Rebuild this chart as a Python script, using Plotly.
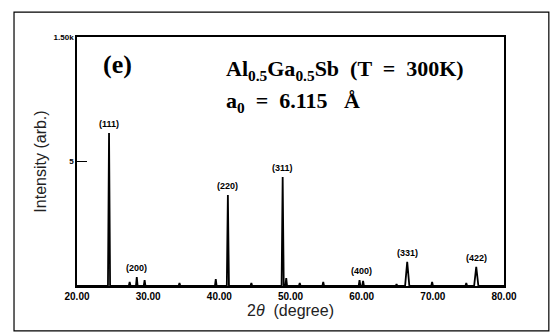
import plotly.graph_objects as go

# Bragg reflections of Al0.5Ga0.5Sb (T = 300 K), 2-theta in degrees
main_pos = [24.5, 41.2, 48.9, 66.4, 76.1]
main_int = [922, 548, 657, 145, 115]
main_hkl = ["(111)", "(220)", "(311)", "(331)", "(422)"]

# weak reflections (200), (400) and minor background lines
minor_pos = [27.4, 28.4, 29.5, 34.4, 39.5, 44.5, 49.4, 51.3, 54.6, 59.7, 60.2, 64.9, 69.9, 74.7]
minor_int = [24, 54, 36, 18, 42, 18, 48, 18, 24, 36, 30, 12, 24, 18]
weak_hkl = ["(200)", "(400)"]
weak_pos = [28.4, 60.0]
weak_int = [54, 36]

x_ticks = [20, 30, 40, 50, 60, 70, 80]
x_ticktext = ["20.00", "30.00", "40.00", "50.00", "60.00", "70.00", "80.00"]
y_ticks = [750, 1500]
y_ticktext = ["5", "1.50k"]

# assemble a stick pattern: each reflection drawn as a narrow triangle on the baseline
peaks = [(p, h, 0.15) for p, h in zip(main_pos[:3], main_int[:3])]
peaks += [(p, h, 0.3) for p, h in zip(main_pos[3:], main_int[3:])]
peaks += [(p, h, 0.12) for p, h in zip(minor_pos, minor_int)]
peaks.sort()

xs, ys = [20.0], [0.0]
for p, h, w in peaks:
    xs += [p - w, p, p + w]
    ys += [0.0, h, 0.0]
xs.append(80.0)
ys.append(0.0)

fig = go.Figure()
fig.add_trace(go.Scatter(x=xs, y=ys, mode="lines",
                         line=dict(color="black", width=1.8),
                         hoverinfo="skip", showlegend=False))

label_font = dict(family="Liberation Sans Narrow, Liberation Sans, Arial", size=9, color="black")
for name, p, h in zip(main_hkl + weak_hkl, main_pos + weak_pos, main_int + weak_int):
    fig.add_annotation(x=p, y=h, text="<b>" + name + "</b>", showarrow=False,
                       yanchor="bottom", yshift=2, font=label_font)

serif = "Liberation Serif, Times New Roman, serif"
fig.add_annotation(xref="paper", yref="paper", x=0.096, y=0.89, text="<b>(e)</b>",
                   showarrow=False, xanchor="center", yanchor="middle",
                   font=dict(family=serif, size=26, color="black"))
fig.add_annotation(xref="paper", yref="paper", x=0.345, y=0.867,
                   text="<b>Al<sub>0.5</sub>Ga<sub>0.5</sub>Sb  (T  =  300K)</b>",
                   showarrow=False, xanchor="left", yanchor="middle",
                   font=dict(family=serif, size=22, color="black"))
fig.add_annotation(xref="paper", yref="paper", x=0.345, y=0.739,
                   text="<b>a<sub>0</sub>  =  6.115   Å</b>",
                   showarrow=False, xanchor="left", yanchor="middle",
                   font=dict(family=serif, size=22, color="black"))

# outer figure frame
fig.add_shape(type="rect", xref="paper", yref="paper",
              x0=-0.1475, x1=1.105, y0=-0.18, y1=1.1,
              line=dict(color="black", width=1.2))

fig.update_xaxes(range=[20, 80], tickvals=x_ticks,
                 ticktext=["<b>" + t + "</b>" for t in x_ticktext],
                 tickfont=dict(family="Liberation Sans Narrow, Liberation Sans, Arial", size=10, color="black"),
                 showline=True, linecolor="black", linewidth=1.5, mirror=True,
                 showgrid=False, zeroline=False, ticks="",
                 title=dict(text="2<i>θ</i>  (degree)", standoff=4,
                            font=dict(family="Liberation Sans, Arial", size=16, color="#222")))
fig.update_yaxes(range=[0, 1500], tickvals=y_ticks,
                 ticktext=["<b>" + t + "</b>" for t in y_ticktext],
                 tickfont=dict(family="Liberation Sans Narrow, Liberation Sans, Arial", size=8, color="black"),
                 showline=True, linecolor="black", linewidth=1.5, mirror=True,
                 showgrid=False, zeroline=False, ticks="inside", ticklen=10,
                 tickcolor="black", tickwidth=1.2,
                 title=dict(text="Intensity (arb.)", standoff=3,
                            font=dict(family="Liberation Sans, Arial", size=16, color="#222")))

fig.update_layout(width=551, height=333,
                  margin=dict(l=77, r=47, t=37, b=47),
                  paper_bgcolor="white", plot_bgcolor="white")

fig.write_html("out.html")
